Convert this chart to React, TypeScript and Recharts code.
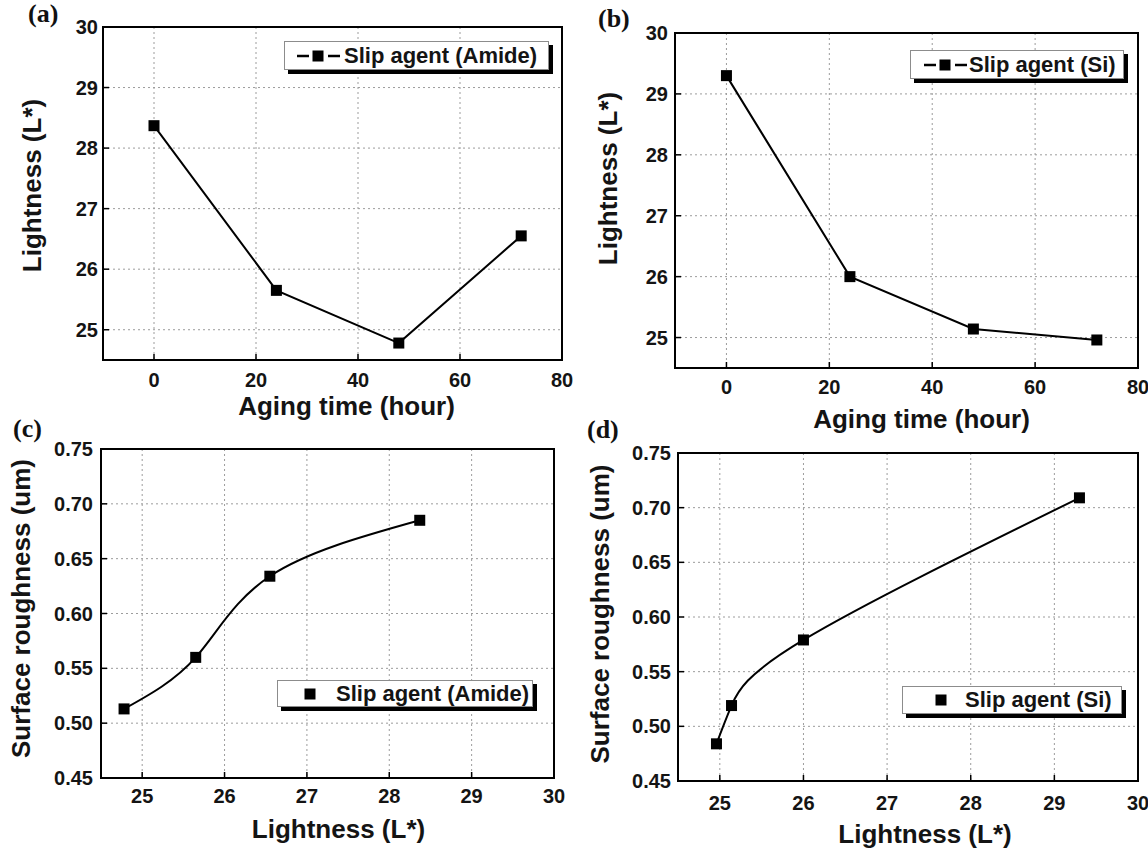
import React from 'react';
import {
  LineChart,
  Line,
  XAxis,
  YAxis,
  CartesianGrid,
  ReferenceArea,
  Legend,
} from 'recharts';

const FONT = '"Liberation Sans", Arial, Helvetica, sans-serif';

// values
const agingHours = [0, 24, 48, 72];
const lightnessAmide = [28.37, 25.65, 24.78, 26.55];
const lightnessSi = [29.3, 26.0, 25.14, 24.96];
const roughnessAmide = [0.685, 0.56, 0.513, 0.634];
const roughnessSi = [0.709, 0.579, 0.519, 0.484];

const hourTicks = [0, 20, 40, 60, 80];
const lightnessTicks = [25, 26, 27, 28, 29, 30];
const roughnessTicks = [0.45, 0.5, 0.55, 0.6, 0.65, 0.7, 0.75];

const byHour = (vals: number[]) =>
  agingHours.map((h, i) => ({ x: h, y: vals[i] }));

// roughness vs lightness, sorted by lightness so the curve runs left to right
const byLightness = (light: number[], rough: number[]) =>
  light
    .map((l, i) => ({ x: l, y: rough[i] }))
    .sort((a, b) => a.x - b.x);

const tickStyle = {
  fontSize: 20,
  fontWeight: 700,
  fontFamily: FONT,
  fill: '#141414',
};

const titleStyle: React.CSSProperties = {
  fontSize: 26,
  fontWeight: 700,
  fontFamily: FONT,
  fill: '#141414',
};

const SquareDot = (props: any) => {
  const { cx, cy, index } = props;
  if (cx == null || cy == null) return <g key={index} />;
  return (
    <rect
      key={index}
      x={cx - 5.5}
      y={cy - 5.5}
      width={11}
      height={11}
      fill="#000"
    />
  );
};

const XTitle = (props: any) => {
  const { viewBox, text, dx, dy } = props;
  const { x = 0, y = 0, width = 0 } = viewBox || {};
  return (
    <text x={x + width / 2 + dx} y={y + dy} textAnchor="middle" style={titleStyle}>
      {text}
    </text>
  );
};

const YTitle = (props: any) => {
  const { viewBox, text, bx, dy } = props;
  const { y = 0, height = 0 } = viewBox || {};
  const cy = y + height / 2 + dy;
  return (
    <text
      x={bx}
      y={cy}
      textAnchor="middle"
      transform={`rotate(-90 ${bx} ${cy})`}
      style={titleStyle}
    >
      {text}
    </text>
  );
};

const LegendBox = (props: any) => {
  const { payload, withLine, width, height, symbolLeft, textLeft } = props;
  const label = payload && payload[0] ? payload[0].value : '';
  return (
    <div
      style={{
        position: 'relative',
        width,
        height,
        boxSizing: 'border-box',
        border: '1px solid #8c8c8c',
        background: '#fff',
        boxShadow: '4px 4px 0 #000',
        fontFamily: FONT,
        fontWeight: 700,
        fontSize: 22,
        color: '#141414',
      }}
    >
      <svg
        width={withLine ? 43 : 12}
        height={14}
        style={{ position: 'absolute', left: symbolLeft, top: (height - 2 - 14) / 2 }}
      >
        {withLine && <line x1={0} y1={7} x2={12} y2={7} stroke="#000" strokeWidth={2.5} />}
        {withLine && <line x1={31} y1={7} x2={43} y2={7} stroke="#000" strokeWidth={2.5} />}
        <rect x={withLine ? 15.5 : 0.5} y={1.5} width={11} height={11} fill="#000" />
      </svg>
      <span
        style={{
          position: 'absolute',
          left: textLeft,
          top: 0,
          lineHeight: `${height - 2}px`,
          whiteSpace: 'nowrap',
        }}
      >
        {label}
      </span>
    </div>
  );
};

type PanelProps = {
  left: number;
  top: number;
  width: number;
  height: number;
  margin: { top: number; right: number; bottom: number; left: number };
  data: { x: number; y: number }[];
  name: string;
  curve: 'linear' | 'natural';
  xDomain: [number, number];
  yDomain: [number, number];
  xTicks: number[];
  yTicks: number[];
  yFormat?: (v: number) => string;
  yAxisWidth: number;
  xAxisHeight: number;
  xTickMargin: number;
  yTickMargin: number;
  xTitle: string;
  xTitleDx: number;
  xTitleDy: number;
  yTitle: string;
  yTitleBx: number;
  yTitleDy: number;
  legend: {
    left: number;
    top: number;
    width: number;
    height: number;
    withLine: boolean;
    symbolLeft: number;
    textLeft: number;
  };
};

const Panel = (p: PanelProps) => (
  <div style={{ position: 'absolute', left: p.left, top: p.top }}>
    <LineChart width={p.width} height={p.height} data={p.data} margin={p.margin}>
      <CartesianGrid stroke="#9c9c9c" strokeDasharray="2 3" strokeWidth={1} />
      <XAxis
        type="number"
        dataKey="x"
        domain={p.xDomain}
        ticks={p.xTicks}
        interval={0}
        allowDataOverflow
        height={p.xAxisHeight}
        axisLine={{ stroke: '#000', strokeWidth: 2 }}
        tickLine={{ stroke: '#000', strokeWidth: 1.5 }}
        tickSize={-6}
        tickMargin={p.xTickMargin}
        tick={tickStyle}
        label={<XTitle text={p.xTitle} dx={p.xTitleDx} dy={p.xTitleDy} />}
      />
      <YAxis
        type="number"
        dataKey="y"
        domain={p.yDomain}
        ticks={p.yTicks}
        interval={0}
        allowDataOverflow
        width={p.yAxisWidth}
        axisLine={{ stroke: '#000', strokeWidth: 2 }}
        tickLine={{ stroke: '#000', strokeWidth: 1.5 }}
        tickSize={-6}
        tickMargin={p.yTickMargin}
        tick={tickStyle}
        tickFormatter={p.yFormat}
        label={<YTitle text={p.yTitle} bx={p.yTitleBx} dy={p.yTitleDy} />}
      />
      <ReferenceArea
        x1={p.xDomain[0]}
        x2={p.xDomain[1]}
        y1={p.yDomain[0]}
        y2={p.yDomain[1]}
        fill="none"
        fillOpacity={0}
        stroke="#000"
        strokeWidth={2}
        ifOverflow="visible"
      />
      <Line
        type={p.curve}
        dataKey="y"
        name={p.name}
        stroke="#000"
        strokeWidth={2}
        dot={SquareDot}
        activeDot={false}
        isAnimationActive={false}
      />
      <Legend
        layout="vertical"
        align="center"
        verticalAlign="middle"
        wrapperStyle={{ left: p.legend.left, top: p.legend.top, width: p.legend.width }}
        content={(lp: any) => <LegendBox {...p.legend} payload={lp.payload} />}
      />
    </LineChart>
  </div>
);

const letterStyle = (left: number, top: number): React.CSSProperties => ({
  position: 'absolute',
  left,
  top,
  fontFamily: '"Liberation Serif", "Times New Roman", serif',
  fontWeight: 700,
  fontSize: 26,
  lineHeight: '26px',
  color: '#111',
});

export default function App() {
  const fmt2 = (v: number) => v.toFixed(2);
  return (
    <div
      style={{
        position: 'absolute',
        left: 0,
        top: 0,
        width: 1148,
        height: 852,
        background: '#fff',
        overflow: 'hidden',
      }}
    >
      <Panel
        left={0}
        top={0}
        width={574}
        height={430}
        margin={{ top: 27, right: 12, bottom: 10, left: 0 }}
        data={byHour(lightnessAmide)}
        name="Slip agent (Amide)"
        curve="linear"
        xDomain={[-10, 80]}
        yDomain={[24.5, 30]}
        xTicks={hourTicks}
        yTicks={lightnessTicks}
        yAxisWidth={103}
        xAxisHeight={60}
        xTickMargin={19}
        yTickMargin={11}
        xTitle="Aging time (hour)"
        xTitleDx={14}
        xTitleDy={55}
        yTitle="Lightness (L*)"
        yTitleBx={41}
        yTitleDy={-8}
        legend={{ left: 284, top: 41, width: 265, height: 29, withLine: true, symbolLeft: 12, textLeft: 59 }}
      />
      <Panel
        left={574}
        top={0}
        width={574}
        height={440}
        margin={{ top: 33, right: 10, bottom: 20, left: 0 }}
        data={byHour(lightnessSi)}
        name="Slip agent (Si)"
        curve="linear"
        xDomain={[-10, 80]}
        yDomain={[24.5, 30]}
        xTicks={hourTicks}
        yTicks={lightnessTicks}
        yAxisWidth={101}
        xAxisHeight={52}
        xTickMargin={18}
        yTickMargin={13}
        xTitle="Aging time (hour)"
        xTitleDx={15}
        xTitleDy={60}
        yTitle="Lightness (L*)"
        yTitleBx={43}
        yTitleDy={-22}
        legend={{ left: 336, top: 50, width: 214, height: 29, withLine: true, symbolLeft: 13, textLeft: 58 }}
      />
      <Panel
        left={0}
        top={420}
        width={574}
        height={432}
        margin={{ top: 29, right: 20, bottom: 0, left: 0 }}
        data={byLightness(lightnessAmide, roughnessAmide)}
        name="Slip agent (Amide)"
        curve="natural"
        xDomain={[24.5, 30]}
        yDomain={[0.45, 0.75]}
        xTicks={lightnessTicks}
        yTicks={roughnessTicks}
        yFormat={fmt2}
        yAxisWidth={101}
        xAxisHeight={74}
        xTickMargin={17}
        yTickMargin={14}
        xTitle="Lightness (L*)"
        xTitleDx={11}
        xTitleDy={60}
        yTitle="Surface roughness (um)"
        yTitleBx={30}
        yTitleDy={-5}
        legend={{ left: 277, top: 260, width: 256, height: 27, withLine: false, symbolLeft: 26, textLeft: 58 }}
      />
      <Panel
        left={574}
        top={420}
        width={574}
        height={432}
        margin={{ top: 33, right: 10, bottom: 0, left: 0 }}
        data={byLightness(lightnessSi, roughnessSi)}
        name="Slip agent (Si)"
        curve="natural"
        xDomain={[24.5, 30]}
        yDomain={[0.45, 0.75]}
        xTicks={lightnessTicks}
        yTicks={roughnessTicks}
        yFormat={fmt2}
        yAxisWidth={104}
        xAxisHeight={71}
        xTickMargin={21}
        yTickMargin={13}
        xTitle="Lightness (L*)"
        xTitleDx={17}
        xTitleDy={62}
        yTitle="Surface roughness (um)"
        yTitleBx={35}
        yTitleDy={-3}
        legend={{ left: 328, top: 266, width: 220, height: 28, withLine: false, symbolLeft: 32, textLeft: 62 }}
      />
      <div style={letterStyle(28, 1)}>(a)</div>
      <div style={letterStyle(598, 6)}>(b)</div>
      <div style={letterStyle(13, 416)}>(c)</div>
      <div style={letterStyle(587, 417)}>(d)</div>
    </div>
  );
}
